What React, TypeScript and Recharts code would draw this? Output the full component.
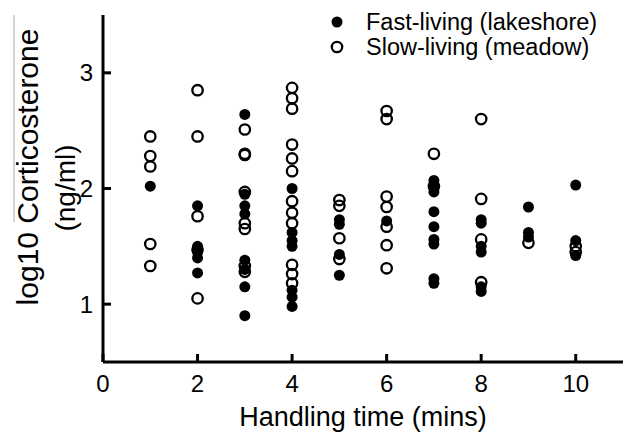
import React from 'react';
import { ScatterChart, Scatter, XAxis, YAxis } from 'recharts';

// handling time (mins) for each column of points
const minutes = [1, 2, 3, 4, 5, 6, 7, 8, 9, 10];

// log10 corticosterone, one list per handling time
const fastLiving = [
  [2.02],
  [1.85, 1.5, 1.45, 1.4, 1.27],
  [2.64, 1.95, 1.85, 1.78, 1.38, 1.3, 1.15, 0.9],
  [2.0, 1.62, 1.55, 1.5, 1.12, 1.06, 0.98],
  [1.73, 1.69, 1.43, 1.25],
  [1.72],
  [2.07, 2.02, 1.97, 1.8, 1.67, 1.56, 1.52, 1.22, 1.18],
  [1.73, 1.7, 1.5, 1.45, 1.15, 1.11],
  [1.84, 1.62, 1.58],
  [2.03, 1.55, 1.42],
];

const slowLiving = [
  [2.45, 2.28, 2.19, 1.52, 1.33],
  [2.85, 2.45, 1.76, 1.47, 1.05],
  [2.51, 2.3, 2.29, 1.97, 1.7, 1.65, 1.33, 1.28],
  [2.87, 2.78, 2.69, 2.38, 2.26, 2.15, 1.89, 1.79, 1.7, 1.34, 1.26, 1.18],
  [1.9, 1.85, 1.57, 1.39],
  [2.67, 2.6, 1.93, 1.84, 1.67, 1.51, 1.31],
  [2.3, 2.02],
  [2.6, 1.91, 1.56, 1.19],
  [1.53],
  [1.5, 1.45],
];

const xTicks = [0, 2, 4, 6, 8, 10];
const yTicks = [1, 2, 3];

const FONT = '"Liberation Sans", Arial, sans-serif';

const toPoints = (cols: number[][]) =>
  minutes.flatMap((m, i) => cols[i].map((v) => ({ x: m, y: v })));

const fastData = toPoints(fastLiving);
const slowData = toPoints(slowLiving);

const XTick = (props: any) => {
  const { x, y, payload } = props;
  return (
    <g>
      <line x1={x} y1={y} x2={x} y2={y - 8} stroke="#000" strokeWidth={3} />
      <text x={x} y={y + 30} textAnchor="middle" fontSize={24} fontFamily={FONT} fill="#000">
        {payload.value}
      </text>
    </g>
  );
};

const YTick = (props: any) => {
  const { x, y, payload } = props;
  return (
    <g>
      <line x1={x} y1={y} x2={x + 8} y2={y} stroke="#000" strokeWidth={3} />
      <text x={x - 10} y={y + 8.5} textAnchor="end" fontSize={24} fontFamily={FONT} fill="#000">
        {payload.value}
      </text>
    </g>
  );
};

const OpenDot = (props: any) => (
  <circle cx={props.cx} cy={props.cy} r={5.2} fill="none" stroke="#000" strokeWidth={2.3} />
);

const FilledDot = (props: any) => (
  <circle cx={props.cx} cy={props.cy} r={5.5} fill="#000" />
);

export default function App() {
  return (
    <div style={{ position: 'absolute', left: 0, top: 0, width: 626, height: 432, background: '#fff' }}>
      <ScatterChart width={626} height={432} margin={{ top: 15, right: 3, bottom: 0, left: 0 }}>
        <XAxis
          type="number"
          dataKey="x"
          domain={[0, 11]}
          ticks={xTicks}
          height={70}
          tickSize={0}
          tickMargin={0}
          tickLine={false}
          tick={<XTick />}
          axisLine={{ stroke: '#000', strokeWidth: 3 }}
          label={{
            value: 'Handling time (mins)',
            position: 'insideBottom',
            offset: 6,
            fontSize: 27,
            fontFamily: FONT,
            fill: '#000',
          }}
        />
        <YAxis
          type="number"
          dataKey="y"
          domain={[0.5, 3.5]}
          ticks={yTicks}
          width={103}
          tickSize={0}
          tickMargin={0}
          tickLine={false}
          tick={<YTick />}
          axisLine={{ stroke: '#000', strokeWidth: 3 }}
        />
        <Scatter data={fastData} shape={<FilledDot />} isAnimationActive={false} />
        <Scatter data={slowData} shape={<OpenDot />} isAnimationActive={false} />
      </ScatterChart>

      {/* axis title and legend drawn on top */}
      <svg width={626} height={432} style={{ position: 'absolute', left: 0, top: 0, pointerEvents: 'none' }}>
        <line x1={14} y1={15} x2={14} y2={222} stroke="#aaa" strokeWidth={1} />
        <text
          transform="translate(38,167) rotate(-90)"
          textAnchor="middle"
          fontSize={30}
          fontFamily={FONT}
          fill="#000"
        >
          log10 Corticosterone
        </text>
        <text
          transform="translate(75,188) rotate(-90)"
          textAnchor="middle"
          fontSize={28}
          fontFamily={FONT}
          fill="#000"
        >
          (ng/ml)
        </text>

        <circle cx={337} cy={22} r={5.5} fill="#000" />
        <text x={366} y={30} fontSize={23.5} fontFamily={FONT} fill="#000">
          Fast-living (lakeshore)
        </text>
        <circle cx={337} cy={47} r={5.2} fill="none" stroke="#000" strokeWidth={2.3} />
        <text x={366} y={55} fontSize={23.5} fontFamily={FONT} fill="#000">
          Slow-living (meadow)
        </text>
      </svg>
    </div>
  );
}
